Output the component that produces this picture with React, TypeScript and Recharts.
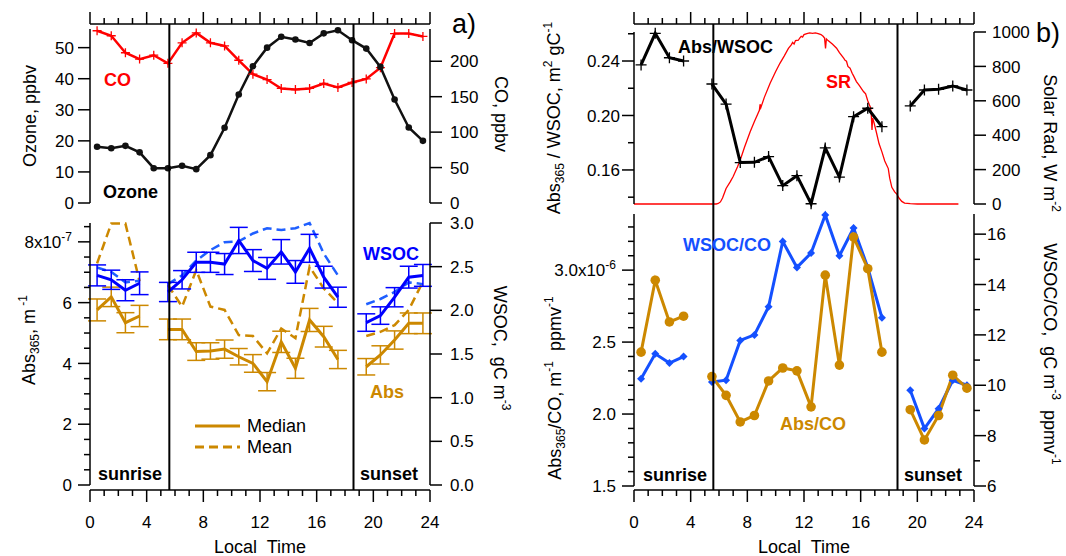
import React from 'react';
import { ComposedChart, Line, XAxis, YAxis, ReferenceLine, ErrorBar } from 'recharts';

const FONT = '"Liberation Sans", Arial, Helvetica, sans-serif';
const RED = '#ff0000';
const GOLD = '#cc8800';
const BLUE = '#0000ff';
const BLUE2 = '#1f5fff';
const BLUE3 = '#1450ff';

// ---- categories (local time, hour centres) ----
const hours = [0.5, 1.5, 2.5, 3.5, 4.5, 5.5, 6.5, 7.5, 8.5, 9.5, 10.5, 11.5, 12.5, 13.5, 14.5, 15.5, 16.5, 17.5, 18.5, 19.5, 20.5, 21.5, 22.5, 23.5];
const sunriseHour = 5.6;
const sunsetHour = 18.6;

// ---- panel a, top ----
const ozone = [18.1, 17.6, 18.4, 16.3, 11.2, 11.2, 12.0, 10.9, 15.4, 24.2, 34.9, 44.0, 50.0, 53.5, 52.6, 51.5, 54.6, 55.6, 52.4, 49.7, 43.8, 33.3, 24.3, 20.0];
const co = [243, 236, 212, 203, 208.5, 197, 226, 240, 226, 221.6, 201.4, 181.7, 174.2, 161.6, 160.1, 161.6, 168.6, 163, 170, 175, 191, 239, 239, 235];

// ---- panel a, bottom (Abs in units of 1e-7 m-1, WSOC in gC m-3) ----
const wsocMedian = [2.40, 2.35, 2.23, 2.31, null, 2.21, 2.35, 2.55, 2.55, 2.53, 2.80, 2.57, 2.48, 2.67, 2.44, 2.71, 2.38, 2.15, null, 1.86, 1.94, 2.15, 2.38, 2.40];
const wsocError = [0.12, 0.11, 0.12, 0.13, null, 0.11, 0.105, 0.115, 0.115, 0.12, 0.15, 0.125, 0.125, 0.14, 0.13, 0.16, 0.125, 0.115, null, 0.1, 0.1, 0.11, 0.125, 0.125];
const wsocMean = [2.49, 2.44, 2.32, 2.34, null, 2.30, 2.40, 2.57, 2.69, 2.78, 2.79, 2.88, 2.94, 2.92, 2.94, 3.0, 2.65, 2.40, null, 2.07, 2.13, 2.21, 2.32, 2.30];
const absMedian = [5.76, 6.19, 5.34, 5.56, null, 5.12, 5.12, 4.39, 4.41, 4.47, 4.22, 4.00, 3.40, 4.71, 3.84, 5.43, 4.88, 4.13, null, 3.89, 4.28, 4.77, 5.32, 5.32];
const absError = [0.36, 0.32, 0.33, 0.35, null, 0.34, 0.34, 0.29, 0.27, 0.3, 0.27, 0.29, 0.3, 0.35, 0.33, 0.38, 0.34, 0.3, null, 0.27, 0.3, 0.3, 0.34, 0.34];
const absMean = [7.29, 8.60, 8.60, 6.70, null, 6.58, 5.87, 7.07, 5.87, 5.76, 4.93, 4.90, 4.33, 5.15, 4.83, 7.18, 6.47, 5.98, null, 4.90, 5.04, 5.26, 5.76, 6.69];

// ---- panel b, top ----
const absPerWsoc = [0.2371, 0.2603, 0.2424, 0.2400, null, 0.2231, 0.2084, 0.1654, 0.1656, 0.1698, 0.1485, 0.1558, 0.1352, 0.1762, 0.1548, 0.1991, 0.2053, 0.1918, null, 0.2070, 0.2187, 0.2192, 0.2217, 0.2187];
const srTime = [0, 5.8, 5.95, 6.1, 6.25, 6.5, 6.8, 7.0, 7.3, 7.5, 7.8, 8.2, 8.5, 8.85, 8.9, 8.95, 9.2, 9.6, 10.0, 10.3, 10.6, 10.9, 11.1, 11.2, 11.3, 11.4, 11.6, 11.7, 11.8, 11.9, 12.0, 12.2, 12.4, 12.6, 12.8, 13.0, 13.2, 13.35, 13.45, 13.52, 13.58, 13.7, 14.0, 14.3, 14.5, 14.8, 14.9, 15.0, 15.1, 15.25, 15.4, 15.5, 15.7, 15.9, 16.2, 16.35, 16.5, 16.6, 16.7, 16.75, 16.8, 16.85, 16.95, 17.1, 17.3, 17.5, 17.7, 17.95, 18.05, 18.2, 18.4, 18.55, 18.7, 18.9, 19.1, 19.5, 20.0, 22.9];
const srValue = [0, 0, 3, 12, 35, 90, 130, 160, 215, 256, 330, 420, 480, 545, 580, 560, 620, 701, 770, 818, 860, 905, 925, 940, 930, 950, 952, 965, 975, 970, 985, 990, 995, 992, 995, 990, 985, 975, 965, 905, 960, 950, 930, 906, 880, 848, 835, 830, 800, 790, 760, 745, 712, 690, 654, 640, 600, 580, 560, 518, 430, 500, 470, 420, 350, 303, 250, 206, 150, 97, 70, 58, 35, 15, 5, 2, 0, 0];

// ---- panel b, bottom (Abs/CO in 1e-6 m-1 ppmv-1, WSOC/CO in gC m-3 ppmv-1) ----
const absPerCo = [2.43, 2.93, 2.64, 2.68, null, 2.26, 2.13, 1.945, 1.99, 2.23, 2.32, 2.30, 2.05, 2.965, 2.34, 3.23, 3.01, 2.43, null, 2.03, 1.82, 1.99, 2.27, 2.18];
const wsocPerCo = [10.26, 11.25, 10.88, 11.14, null, 10.13, 10.2, 11.78, 12.0, 13.12, 15.71, 14.68, 15.25, 16.76, 15.14, 16.24, 14.68, 12.68, null, 9.8, 8.28, 9.07, 10.2, 10.0];

// ---- tick values ----
const timeTicks = [0, 1, 2, 3, 4, 5, 6, 7, 8, 9, 10, 11, 12, 13, 14, 15, 16, 17, 18, 19, 20, 21, 22, 23, 24];
const ozoneTicks = [0, 10, 20, 30, 40, 50];
const coTicks = [0, 50, 100, 150, 200];
const absTicks = [0, 0.5, 1, 1.5, 2, 2.5, 3, 3.5, 4, 4.5, 5, 5.5, 6, 6.5, 7, 7.5, 8, 8.5];
const absMajor = [0, 2, 4, 6, 8];
const wsocTicks = [0, 0.5, 1, 1.5, 2, 2.5, 3];
const absWsocTicks = [0.14, 0.16, 0.18, 0.2, 0.22, 0.24, 0.26];
const absWsocMajor = [0.16, 0.2, 0.24];
const srTicks = [0, 200, 400, 600, 800, 1000];
const absCoTicks = [1.5, 1.6, 1.7, 1.8, 1.9, 2.0, 2.1, 2.2, 2.3, 2.4, 2.5, 2.6, 2.7, 2.8, 2.9, 3.0, 3.1, 3.2, 3.3];
const absCoMajor = [1.5, 2.0, 2.5, 3.0];
const wsocCoTicks = [6, 7, 8, 9, 10, 11, 12, 13, 14, 15, 16];
const wsocCoMajor = [6, 8, 10, 12, 14, 16];

const dataA1 = hours.map((t, i) => ({ t, ozone: ozone[i], co: co[i] }));
const dataA2 = hours.map((t, i) => ({
  t,
  wsocMedian: wsocMedian[i],
  wsocError: wsocError[i],
  wsocMean: wsocMean[i],
  absMedian: absMedian[i],
  absError: absError[i],
  absMean: absMean[i],
}));
const dataB1 = hours.map((t, i) => ({ t, absPerWsoc: absPerWsoc[i] }));
const dataSR = srTime.map((t, i) => ({ t, sr: srValue[i] }));
const dataB2 = hours.map((t, i) => ({ t, absPerCo: absPerCo[i], wsocPerCo: wsocPerCo[i] }));
const dataTime = timeTicks.map((t) => ({ t, v: 0.5 }));

const near = (a: number, b: number) => Math.abs(a - b) < 1e-6;

function makeYTick(side: 'left' | 'right', majors: number[] | null, fmt: (v: number) => any, gap: number) {
  return (props: any) => {
    const { x, y, payload } = props;
    const v = payload.value;
    const isMajor = majors ? majors.some((m) => near(m, v)) : true;
    const len = isMajor ? 12 : 6;
    const s = side === 'left' ? -1 : 1;
    return (
      <g>
        <line x1={x} x2={x + s * len} y1={y} y2={y} stroke="#000" strokeWidth={1.5} />
        {isMajor && (
          <text
            x={x + s * (12 + gap)}
            y={y}
            dy="0.36em"
            textAnchor={side === 'left' ? 'end' : 'start'}
            fontSize={17}
            fontFamily={FONT}
            fill="#000"
          >
            {fmt(v)}
          </text>
        )}
      </g>
    );
  };
}

function makeXTick(orient: 'top' | 'bottom') {
  return (props: any) => {
    const { x, y, payload } = props;
    const v = payload.value;
    const major = v % 4 === 0;
    const len = major ? 12 : 6;
    const s = orient === 'top' ? -1 : 1;
    return (
      <g>
        <line x1={x} x2={x} y1={y} y2={y + s * len} stroke="#000" strokeWidth={1.5} />
        {orient === 'bottom' && major && (
          <text x={x} y={y + 38} textAnchor="middle" fontSize={17} fontFamily={FONT} fill="#000">
            {v}
          </text>
        )}
      </g>
    );
  };
}

const plusDot = (color: string, half: number, sw: number) => (p: any) => {
  const { cx, cy, index } = p;
  if (cx == null || cy == null || p.value == null) return <g key={`e${index}`} />;
  return (
    <path
      key={`p${index}`}
      d={`M${cx - half},${cy}H${cx + half}M${cx},${cy - half}V${cy + half}`}
      stroke={color}
      strokeWidth={sw}
      fill="none"
    />
  );
};
const circleDot = (color: string, r: number) => (p: any) => {
  const { cx, cy, index } = p;
  if (cx == null || cy == null || p.value == null) return <g key={`e${index}`} />;
  return <circle key={`c${index}`} cx={cx} cy={cy} r={r} fill={color} stroke="none" />;
};
const diamondDot = (color: string, h: number) => (p: any) => {
  const { cx, cy, index } = p;
  if (cx == null || cy == null || p.value == null) return <g key={`e${index}`} />;
  return (
    <path
      key={`d${index}`}
      d={`M${cx},${cy - h}L${cx + h},${cy}L${cx},${cy + h}L${cx - h},${cy}Z`}
      fill={color}
      stroke="none"
    />
  );
};

const axisLine = { stroke: '#000', strokeWidth: 1.5 };
const fmtInt = (v: number) => String(v);
const fmt1 = (v: number) => v.toFixed(1);
const fmt2 = (v: number) => v.toFixed(2);
const fmtAbs = (v: number) =>
  near(v, 8) ? (
    <>
      8x10<tspan dy={-7} fontSize={12}>-7</tspan>
    </>
  ) : (
    String(v)
  );
const fmtAbsCo = (v: number) =>
  near(v, 3) ? (
    <>
      3.0x10<tspan dy={-7} fontSize={12}>-6</tspan>
    </>
  ) : (
    v.toFixed(1)
  );

const hiddenX = <XAxis dataKey="t" type="number" domain={[0, 24]} hide />;

function yAxisProps(id: string, side: 'left' | 'right', width: number, domain: number[], ticks: number[], majors: number[] | null, fmt: (v: number) => any, gap: number) {
  return {
    yAxisId: id,
    orientation: side,
    width,
    type: 'number' as const,
    domain,
    ticks,
    interval: 0 as const,
    tickLine: false,
    tickSize: 0,
    tickMargin: 0,
    axisLine,
    tick: makeYTick(side, majors, fmt, gap),
  };
}

function TimeOverlay({ left, right }: { left: number; right: number }) {
  return (
    <ComposedChart width={left + right + 340} height={556} data={dataTime} margin={{ top: 0, right, bottom: 0, left }}>
      <XAxis
        xAxisId="top"
        orientation="top"
        dataKey="t"
        type="number"
        domain={[0, 24]}
        allowDataOverflow
        ticks={timeTicks}
        interval={0}
        height={24}
        tickLine={false}
        tickSize={0}
        tickMargin={0}
        axisLine={axisLine}
        tick={makeXTick('top')}
      />
      <XAxis
        xAxisId="bot"
        orientation="bottom"
        dataKey="t"
        type="number"
        domain={[0, 24]}
        allowDataOverflow
        ticks={timeTicks}
        interval={0}
        height={66}
        tickLine={false}
        tickSize={0}
        tickMargin={0}
        axisLine={axisLine}
        tick={makeXTick('bottom')}
      />
      <YAxis yAxisId="ov" hide dataKey="v" type="number" domain={[0, 1]} allowDataOverflow />
      <Line xAxisId="top" yAxisId="ov" dataKey="v" stroke="none" dot={false} activeDot={false} isAnimationActive={false} />
      <ReferenceLine xAxisId="top" yAxisId="ov" x={sunriseHour} stroke="#000" strokeWidth={2} ifOverflow="visible" />
      <ReferenceLine xAxisId="top" yAxisId="ov" x={sunsetHour} stroke="#000" strokeWidth={2} ifOverflow="visible" />
    </ComposedChart>
  );
}

const abs = (left: number, top: number): React.CSSProperties => ({ position: 'absolute', left, top });

export default function App() {
  const bold = { fontFamily: FONT, fontWeight: 700, fontSize: 18 } as const;
  const reg = { fontFamily: FONT, fontSize: 18 } as const;
  return (
    <div style={{ position: 'absolute', left: 0, top: 0, width: 1066, height: 556, background: '#fff', overflow: 'hidden' }}>
      {/* Panel a, top: ozone & CO */}
      <div style={abs(0, 0)}>
        <ComposedChart width={530} height={222} data={dataA1} margin={{ top: 29, right: 0, bottom: 19, left: 0 }}>
          {hiddenX}
          <YAxis {...yAxisProps('oz', 'left', 90, [0, 56], ozoneTicks, null, fmtInt, 4)} />
          <YAxis {...yAxisProps('co', 'right', 100, [0, 245.5], coTicks, null, fmtInt, 8)} />
          <Line yAxisId="co" type="linear" dataKey="co" stroke={RED} strokeWidth={2.5} dot={plusDot(RED, 4.5, 1.3)} activeDot={false} isAnimationActive={false} />
          <Line yAxisId="oz" type="linear" dataKey="ozone" stroke="#111" strokeWidth={2.5} dot={circleDot('#111', 3.3)} activeDot={false} isAnimationActive={false} />
        </ComposedChart>
      </div>
      {/* Panel a, bottom: Abs & WSOC */}
      <div style={abs(0, 200)}>
        <ComposedChart width={530} height={302} data={dataA2} margin={{ top: 23, right: 0, bottom: 17, left: 0 }}>
          {hiddenX}
          <YAxis {...yAxisProps('abs', 'left', 90, [0, 8.62], absTicks, absMajor, fmtAbs, 6)} />
          <YAxis {...yAxisProps('wsoc', 'right', 100, [0, 3.0], wsocTicks, null, fmt1, 8)} />
          <Line yAxisId="abs" type="linear" dataKey="absMean" stroke={GOLD} strokeWidth={2.5} strokeDasharray="9 5" dot={false} activeDot={false} isAnimationActive={false} />
          <Line yAxisId="abs" type="linear" dataKey="absMedian" stroke={GOLD} strokeWidth={3} dot={false} activeDot={false} isAnimationActive={false}>
            <ErrorBar dataKey="absError" width={9} stroke={GOLD} strokeWidth={1.5} direction="y" />
          </Line>
          <Line yAxisId="wsoc" type="linear" dataKey="wsocMean" stroke={BLUE2} strokeWidth={2.5} strokeDasharray="9 5" dot={false} activeDot={false} isAnimationActive={false} />
          <Line yAxisId="wsoc" type="linear" dataKey="wsocMedian" stroke={BLUE} strokeWidth={3} dot={false} activeDot={false} isAnimationActive={false}>
            <ErrorBar dataKey="wsocError" width={9} stroke={BLUE} strokeWidth={1.5} direction="y" />
          </Line>
        </ComposedChart>
      </div>
      <div style={abs(0, 0)}>
        <TimeOverlay left={90} right={100} />
      </div>

      {/* Panel b, top: solar radiation */}
      <div style={abs(530, 0)}>
        <ComposedChart width={536} height={222} data={dataSR} margin={{ top: 32, right: 0, bottom: 18, left: 104 }}>
          {hiddenX}
          <YAxis yAxisId="sr-l" hide domain={[0, 1]} />
          <YAxis {...yAxisProps('sr', 'right', 92, [0, 1000], srTicks, null, fmtInt, 6)} />
          <Line yAxisId="sr" type="linear" dataKey="sr" stroke={RED} strokeWidth={1.3} dot={false} activeDot={false} isAnimationActive={false} />
        </ComposedChart>
      </div>
      {/* Panel b, top: Abs/WSOC */}
      <div style={abs(530, 0)}>
        <ComposedChart width={536} height={222} data={dataB1} margin={{ top: 32, right: 92, bottom: 18, left: 0 }}>
          {hiddenX}
          <YAxis {...yAxisProps('aw', 'left', 104, [0.135, 0.2613], absWsocTicks, absWsocMajor, fmt2, 2)} />
          <Line yAxisId="aw" type="linear" dataKey="absPerWsoc" stroke="#000" strokeWidth={3} dot={plusDot('#000', 5.5, 1.3)} activeDot={false} isAnimationActive={false} />
        </ComposedChart>
      </div>
      {/* Panel b, bottom: Abs/CO & WSOC/CO */}
      <div style={abs(530, 200)}>
        <ComposedChart width={536} height={302} data={dataB2} margin={{ top: 14, right: 0, bottom: 16, left: 0 }}>
          {hiddenX}
          <YAxis {...yAxisProps('ac', 'left', 104, [1.5, 3.39], absCoTicks, absCoMajor, fmtAbsCo, 6)} />
          <YAxis {...yAxisProps('wc', 'right', 92, [6, 16.8], wsocCoTicks, wsocCoMajor, fmtInt, 1)} />
          <Line yAxisId="wc" type="linear" dataKey="wsocPerCo" stroke={BLUE3} strokeWidth={3} dot={diamondDot(BLUE3, 4)} activeDot={false} isAnimationActive={false} />
          <Line yAxisId="ac" type="linear" dataKey="absPerCo" stroke={GOLD} strokeWidth={3} dot={circleDot(GOLD, 4.8)} activeDot={false} isAnimationActive={false} />
        </ComposedChart>
      </div>
      <div style={abs(530, 0)}>
        <TimeOverlay left={104} right={92} />
      </div>

      {/* Text annotations */}
      <svg width={1066} height={556} style={{ position: 'absolute', left: 0, top: 0, pointerEvents: 'none' }}>
        {/* panel a */}
        <text x={104} y={86} fill={RED} {...bold}>CO</text>
        <text x={103} y={198} fill="#000" {...bold}>Ozone</text>
        <text x={363} y={260} fill={BLUE} {...bold}>WSOC</text>
        <text x={370} y={398} fill={GOLD} {...bold}>Abs</text>
        <text x={98} y={480} fill="#000" {...bold}>sunrise</text>
        <text x={360} y={480} fill="#000" {...bold}>sunset</text>
        <text x={452} y={33} fill="#000" fontFamily={FONT} fontSize={27}>a)</text>
        <line x1={195} x2={240} y1={426} y2={426} stroke={GOLD} strokeWidth={3} />
        <text x={247} y={432} fill="#000" {...reg}>Median</text>
        <line x1={195} x2={240} y1={447} y2={447} stroke={GOLD} strokeWidth={3} strokeDasharray="9 5" />
        <text x={247} y={453} fill="#000" {...reg}>Mean</text>
        <text transform="translate(36,116) rotate(-90)" textAnchor="middle" fill="#000" {...reg}>Ozone, ppbv</text>
        <text transform="translate(35,340) rotate(-90)" textAnchor="middle" fill="#000" {...reg}>
          Abs<tspan dy={4} fontSize={12}>365</tspan><tspan dy={-4}>, m</tspan><tspan dy={-8} fontSize={12}> -1</tspan>
        </text>
        <text transform="translate(495,114) rotate(90)" textAnchor="middle" fill="#000" {...reg}>CO, ppbv</text>
        <text transform="translate(494,348) rotate(90)" textAnchor="middle" fill="#000" style={{ whiteSpace: 'pre' }} {...reg}>
          WSOC,  gC m<tspan dy={-8} fontSize={12}>-3</tspan>
        </text>
        <text x={260} y={553} textAnchor="middle" fill="#000" style={{ whiteSpace: 'pre' }} {...reg}>Local  Time</text>

        {/* panel b */}
        <text x={678} y={53} fill="#000" {...bold}>Abs/WSOC</text>
        <text x={826} y={88} fill={RED} {...bold}>SR</text>
        <text x={683} y={251} fill={BLUE3} {...bold}>WSOC/CO</text>
        <text x={780} y={430} fill={GOLD} {...bold}>Abs/CO</text>
        <text x={643} y={481} fill="#000" {...bold}>sunrise</text>
        <text x={904} y={481} fill="#000" {...bold}>sunset</text>
        <text x={1036} y={42} fill="#000" fontFamily={FONT} fontSize={27}>b)</text>
        <text transform="translate(560,118) rotate(-90)" textAnchor="middle" fill="#000" {...reg}>
          Abs<tspan dy={4} fontSize={12}>365</tspan><tspan dy={-4}> / WSOC, m</tspan><tspan dy={-8} fontSize={12}>2</tspan><tspan dy={8}> gC</tspan><tspan dy={-8} fontSize={12}>-1</tspan>
        </text>
        <text transform="translate(561,388) rotate(-90)" textAnchor="middle" fill="#000" style={{ whiteSpace: 'pre' }} {...reg}>
          Abs<tspan dy={4} fontSize={12}>365</tspan><tspan dy={-4}>/CO, m</tspan><tspan dy={-8} fontSize={12}>-1</tspan><tspan dy={8}>  ppmv</tspan><tspan dy={-8} fontSize={12}>-1</tspan>
        </text>
        <text transform="translate(1044,143) rotate(90)" textAnchor="middle" fill="#000" {...reg}>
          Solar Rad, W m<tspan dy={-8} fontSize={12}>-2</tspan>
        </text>
        <text transform="translate(1044,354) rotate(90)" textAnchor="middle" fill="#000" style={{ whiteSpace: 'pre' }} {...reg}>
          WSOC/CO,  gC m<tspan dy={-8} fontSize={12}>-3</tspan><tspan dy={8}>  ppmv</tspan><tspan dy={-8} fontSize={12}>-1</tspan>
        </text>
        <text x={804} y={553} textAnchor="middle" fill="#000" style={{ whiteSpace: 'pre' }} {...reg}>Local  Time</text>
      </svg>
    </div>
  );
}
